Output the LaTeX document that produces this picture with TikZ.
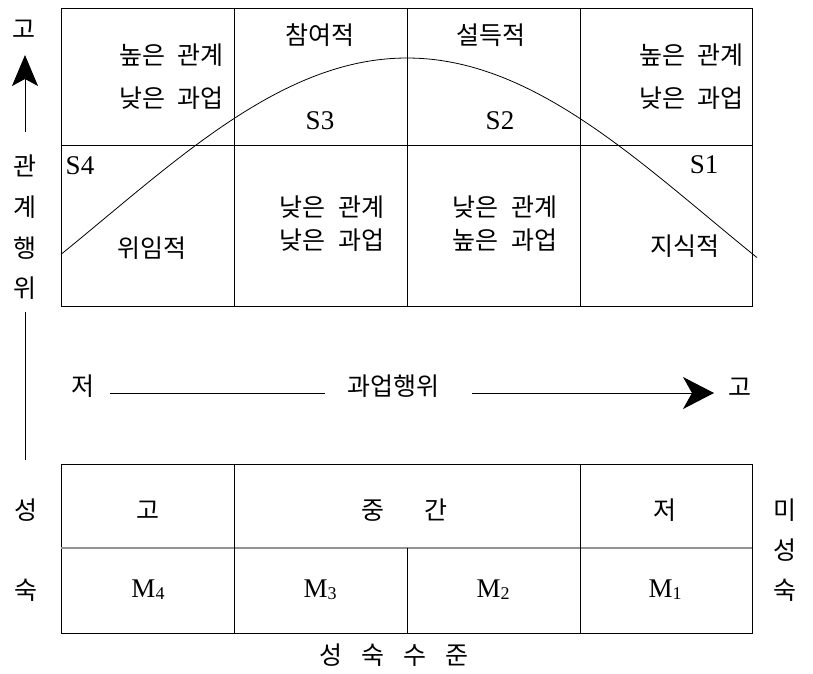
\documentclass[tikz,border=0pt]{standalone}
\usepackage{fontspec}
\setmainfont{Liberation Serif}
\newfontfamily\krfont{Noto Sans CJK KR}
\usetikzlibrary{arrows.meta}
\begin{document}
\begin{tikzpicture}[x=1pt,y=-1pt,
  gridline/.style={line width=1pt,black},
  kt/.style={font=\krfont\fontsize{25}{25}\selectfont, inner sep=0pt, align=center},
  lt/.style={font=\fontsize{27}{27}\selectfont, inner sep=0pt},
  two/.style={kt, align=right, execute at begin node=\setlength{\baselineskip}{43pt}},
  twoc/.style={kt, align=center, execute at begin node=\setlength{\baselineskip}{33pt}},
  axis/.style={line width=1pt},
  vhead/.style={-{Stealth[length=31pt,width=26pt,inset=7pt]}},
  hhead/.style={-{Stealth[length=31pt,width=32pt,inset=9pt]}}
]
\useasboundingbox (0,0) rectangle (813,673);
\fill[white] (0,0) rectangle (813,673);

% ---- top grid ----
\draw[gridline] (61,8) rectangle (752,306);
\draw[gridline] (61,145) -- (752,145);
\draw[gridline] (234,8) -- (234,306);
\draw[gridline] (407,8) -- (407,306);
\draw[gridline] (580,8) -- (580,306);

% curve
\draw[line width=0.8pt] plot[domain=61:757, samples=150] (\x, {58+160*(1-cos(0.29807*(\x-407)))});

% top grid texts
\node[two, anchor=east] (tl) at (224,77) {높은\hspace{0.5em}관계\\낮은\hspace{0.5em}과업};
\node[two, anchor=east] (tr) at (744,77) {높은\hspace{0.5em}관계\\낮은\hspace{0.5em}과업};
\node[kt] (s3t) at (320,35) {참여적};
\node[kt] (s2t) at (491,35) {설득적};
\node[lt] (s3) at (320,121) {S3};
\node[lt] (s2) at (500,121) {S2};
\node[lt] (s4) at (80,166) {S4};
\node[lt] (s1) at (704,165) {S1};
\node[kt] (s4t) at (152,248) {위임적};
\node[kt] (s1t) at (685,246) {지식적};
\node[twoc] (c2) at (332,224) {낮은\hspace{0.5em}관계\\낮은\hspace{0.5em}과업};
\node[twoc] (c3) at (505,224) {낮은\hspace{0.5em}관계\\높은\hspace{0.5em}과업};

% ---- left vertical axis ----
\node[kt] (yhi) at (24,29) {고};
\node[kt] (y1) at (25,166) {관};
\node[kt] (y2) at (25,207) {계};
\node[kt] (y3) at (25,248) {행};
\node[kt] (y4) at (25,288) {위};
\coordinate (ya) at (25,132);
\coordinate (yb) at (25,55);
\coordinate (yc) at (25,312);
\coordinate (yd) at (25,460);
\draw[axis, vhead] (ya) -- (yb);
\draw[axis] (yc) -- (yd);

% ---- horizontal axis ----
\node[kt] (xlo) at (83,386) {저};
\node[kt] (xlab) at (393,386) {과업행위};
\node[kt] (xhi) at (740,387) {고};
\coordinate (xa) at (110,393);
\coordinate (xb) at (325,393);
\coordinate (xc) at (472,393);
\coordinate (xd) at (714,393);
\draw[axis] (xa) -- (xb);
\draw[axis, hhead] (xc) -- (xd);

% ---- bottom grid ----
\draw[gridline] (61,464) rectangle (752,633);
\draw[line width=1.8pt, gray!85] (61,548) -- (752,548);
\draw[gridline] (234,464) -- (234,633);
\draw[gridline] (580,464) -- (580,633);
\draw[gridline] (407,548) -- (407,633);

\node[kt] (b1) at (148,510) {고};
\node[kt] (b2) at (404,510) {중\hspace{1.6em}간};
\node[kt] (b3) at (665,510) {저};
\node[lt] (m4) at (148,590) {M\raisebox{-2pt}{\fontsize{18}{18}\selectfont 4}};
\node[lt] (m3) at (320,590) {M\raisebox{-2pt}{\fontsize{18}{18}\selectfont 3}};
\node[lt] (m2) at (493,590) {M\raisebox{-2pt}{\fontsize{18}{18}\selectfont 2}};
\node[lt] (m1) at (665,590) {M\raisebox{-2pt}{\fontsize{18}{18}\selectfont 1}};

\node[kt] (l1) at (26,510) {성};
\node[kt] (l2) at (26,590) {숙};
\node[kt] (r1) at (785,510) {미};
\node[kt] (r2) at (785,550) {성};
\node[kt] (r3) at (785,590) {숙};
\node[kt] (bot) at (394,655) {성\hspace{0.75em}숙\hspace{0.75em}수\hspace{0.75em}준};
\end{tikzpicture}
\end{document}
